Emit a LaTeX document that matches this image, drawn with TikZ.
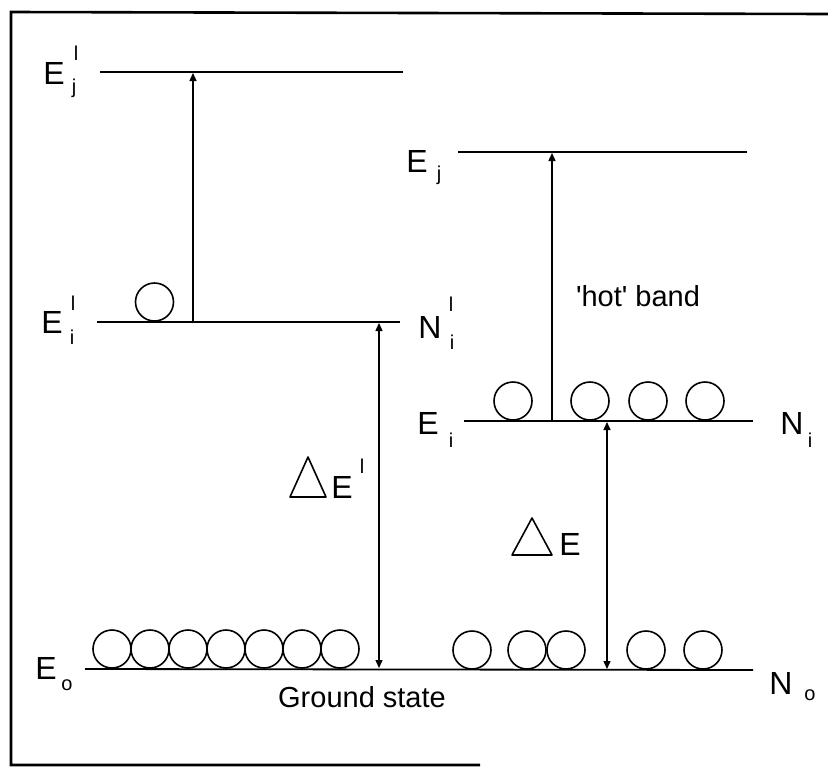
\documentclass[tikz,border=0pt]{standalone}
\usepackage{fontspec}
\setmainfont{Liberation Sans}[Ligatures=TeXOff]
\usetikzlibrary{arrows.meta}
\tikzset{
  level/.style={line width=1.8pt},
  frameline/.style={line width=2.6pt},
  ball/.style={circle,draw,line width=1.6pt,minimum size=38pt,inner sep=0pt},
  uparrow/.style={line width=1.4pt,-{Triangle[length=8pt,width=7pt]}},
  dblarrow/.style={line width=1.4pt,{Triangle[length=8pt,width=7pt]}-{Triangle[length=8pt,width=7pt]}},
  big/.style={inner sep=0pt,font=\fontsize{32}{32}\selectfont},
  small/.style={inner sep=0pt,font=\fontsize{20}{20}\selectfont},
  txt/.style={inner sep=0pt,font=\fontsize{29}{29}\selectfont},
}
\begin{document}
\begin{tikzpicture}[x=1pt,y=-1pt]
\useasboundingbox (0,0) rectangle (828,769);
% frame
\coordinate (fTL) at (11,12);
\coordinate (fTR) at (828,14);
\coordinate (fBL) at (11,765);
\coordinate (fBR) at (480,765);
\draw[frameline] (fTR) -- (fTL) -- (fBL) -- (fBR);

% levels
\coordinate (EjpL) at (100,72);  \coordinate (EjpR) at (403,72);
\coordinate (EipL) at (97,322);  \coordinate (EipR) at (400,322);
\coordinate (EjL) at (458,152);  \coordinate (EjR) at (747,152);
\coordinate (EiL) at (464,421);  \coordinate (EiR) at (753,421);
\coordinate (GL) at (85,669);    \coordinate (GR) at (753,670);
\draw[level] (EjpL) -- (EjpR);
\draw[level] (EipL) -- (EipR);
\draw[level] (EjL) -- (EjR);
\draw[level] (EiL) -- (EiR);
\draw[level] (GL) -- (GR);

% arrow endpoints
\coordinate (a1b) at (193,322); \coordinate (a1t) at (193,73);
\coordinate (a2b) at (552,421); \coordinate (a2t) at (552,153);
\coordinate (a3t) at (379,323); \coordinate (a3b) at (379,668);
\coordinate (a4t) at (607,422); \coordinate (a4b) at (607,669);
\draw[uparrow] (a1b) -- (a1t);
\draw[uparrow] (a2b) -- (a2t);
\draw[dblarrow] (a3t) -- (a3b);
\draw[dblarrow] (a4t) -- (a4b);

% balls
\node[ball] (b0) at (154.5,302) {};
\node[ball] (u1) at (513,401) {};
\node[ball] (u2) at (590,401) {};
\node[ball] (u3) at (648,401) {};
\node[ball] (u4) at (705,401) {};
\foreach \i/\x in {1/112,2/150,3/188,4/226,5/264,6/302,7/340}
  \node[ball] (g\i) at (\x,649) {};
\foreach \i/\x in {1/472,2/527,3/566,4/646,5/703}
  \node[ball] (h\i) at (\x,650) {};

% labels
\node[big] (lEjp) at (54,73) {E};
\node[small] (lEjpS) at (76,53) {l};
\node[small] (lEjpI) at (74,88) {j};
\node[big] (lEip) at (52,322) {E};
\node[small] (lEipS) at (73,303) {l};
\node[small] (lEipI) at (72,337) {i};
\node[big] (lNip) at (430,327) {N};
\node[small] (lNipS) at (451,304) {l};
\node[small] (lNipI) at (452,342) {i};
\node[big] (lEj) at (417,161) {E};
\node[small] (lEjI) at (439,175) {j};
\node[big] (lEi) at (428,423) {E};
\node[small] (lEiI) at (451,440) {i};
\node[big] (lNi) at (792,423) {N};
\node[small] (lNiI) at (810,440) {i};
\node[big] (lEo) at (46,668) {E};
\node[small] (lEoI) at (67,685) {o};
\node[big] (lNo) at (781,683) {N};
\node[small] (lNoI) at (810,695) {o};
\node[txt] (hot) at (638,296) {'hot' band};
\node[txt] (gs) at (362,697) {Ground state};

% Delta E'
\draw[line width=1.6pt,line join=round] (290,497) -- (326,497) -- (308,457) -- cycle;
\node[big] (dEp) at (342,487) {E};
\node[small] (dEpS) at (362,466) {l};
% Delta E
\draw[line width=1.6pt,line join=round] (512,555) -- (552,555) -- (532,518) -- cycle;
\node[big] (dE) at (570,544) {E};
\end{tikzpicture}
\end{document}
